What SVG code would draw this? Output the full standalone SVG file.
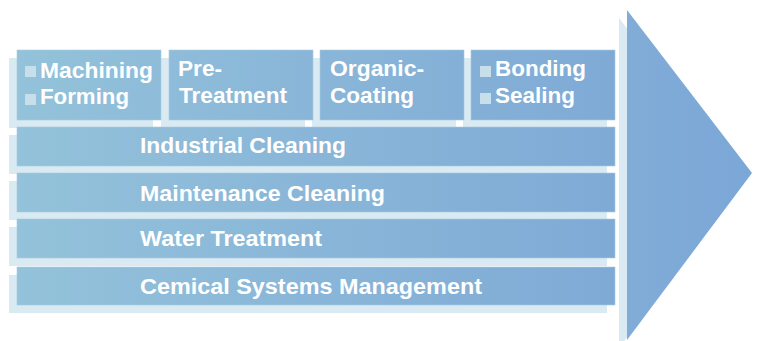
<svg xmlns="http://www.w3.org/2000/svg" width="757" height="341" viewBox="0 0 757 341">
  <defs>
    <linearGradient id="boxGrad" gradientUnits="userSpaceOnUse" x1="17" y1="0" x2="615" y2="0">
      <stop offset="0" stop-color="#93c2da"/>
      <stop offset="1" stop-color="#7faad6"/>
    </linearGradient>
    <linearGradient id="arrowGrad" gradientUnits="userSpaceOnUse" x1="627" y1="0" x2="752" y2="0">
      <stop offset="0" stop-color="#81acd7"/>
      <stop offset="1" stop-color="#7ba7d7"/>
    </linearGradient>
    <style>
      .shadow { fill: #d9eaf2; }
      .box { fill: url(#boxGrad); stroke: #a8cbe0; stroke-width: 0.6; }
      .bullet { fill: #c7dfeb; }
      .lbl { font-family: "Liberation Sans", Arial, sans-serif; font-weight: bold; font-size: 21.5px; fill: #ffffff; }
    </style>
  </defs>

  <!-- Arrow -->
  <g id="arrow">
    <polygon class="shadow" points="619,18 744,181 619,348"/>
    <polygon points="627,10 752,173 627,340" fill="url(#arrowGrad)"/>
  </g>

  <!-- Shadows -->
  <g id="shadows">
    <rect class="shadow" x="9" y="58" width="144" height="70"/>
    <rect class="shadow" x="161" y="58" width="144" height="70"/>
    <rect class="shadow" x="312" y="58" width="144" height="70"/>
    <rect class="shadow" x="463" y="58" width="144" height="70"/>
    <rect class="shadow" x="9" y="135" width="598" height="39"/>
    <rect class="shadow" x="9" y="181" width="598" height="39"/>
    <rect class="shadow" x="9" y="227" width="598" height="39"/>
    <rect class="shadow" x="9" y="275" width="598" height="38"/>
  </g>

  <g id="machining-forming">
    <rect class="box" x="17" y="50" width="144" height="70"/>
    <rect class="bullet" x="25" y="66" width="11" height="11"/>
    <rect class="bullet" x="25" y="94" width="11" height="11"/>
    <text class="lbl" x="40" y="78" textLength="113" lengthAdjust="spacingAndGlyphs">Machining</text>
    <text class="lbl" x="40" y="104" textLength="89" lengthAdjust="spacingAndGlyphs">Forming</text>
  </g>

  <g id="pre-treatment">
    <rect class="box" x="169" y="50" width="144" height="70"/>
    <text class="lbl" x="178" y="76" textLength="44" lengthAdjust="spacingAndGlyphs">Pre-</text>
    <text class="lbl" x="179" y="103" textLength="108" lengthAdjust="spacingAndGlyphs">Treatment</text>
  </g>

  <g id="organic-coating">
    <rect class="box" x="320" y="50" width="144" height="70"/>
    <text class="lbl" x="330" y="76" textLength="94" lengthAdjust="spacingAndGlyphs">Organic-</text>
    <text class="lbl" x="330" y="103" textLength="84" lengthAdjust="spacingAndGlyphs">Coating</text>
  </g>

  <g id="bonding-sealing">
    <rect class="box" x="471" y="50" width="144" height="70"/>
    <rect class="bullet" x="480" y="66" width="11" height="11"/>
    <rect class="bullet" x="480" y="93" width="11" height="11"/>
    <text class="lbl" x="495" y="76" textLength="91" lengthAdjust="spacingAndGlyphs">Bonding</text>
    <text class="lbl" x="495" y="103" textLength="80" lengthAdjust="spacingAndGlyphs">Sealing</text>
  </g>

  <g id="industrial-cleaning">
    <rect class="box" x="17" y="127" width="598" height="39"/>
    <text class="lbl" x="140" y="153" textLength="206" lengthAdjust="spacingAndGlyphs">Industrial Cleaning</text>
  </g>

  <g id="maintenance-cleaning">
    <rect class="box" x="17" y="173" width="598" height="39"/>
    <text class="lbl" x="140" y="201" textLength="245" lengthAdjust="spacingAndGlyphs">Maintenance Cleaning</text>
  </g>

  <g id="water-treatment">
    <rect class="box" x="17" y="219" width="598" height="39"/>
    <text class="lbl" x="140" y="246" textLength="182" lengthAdjust="spacingAndGlyphs">Water Treatment</text>
  </g>

  <g id="chemical-systems-management">
    <rect class="box" x="17" y="267" width="598" height="38"/>
    <text class="lbl" x="140" y="294" textLength="342" lengthAdjust="spacingAndGlyphs">Cemical Systems Management</text>
  </g>

  <g id="connectors"></g>
</svg>
